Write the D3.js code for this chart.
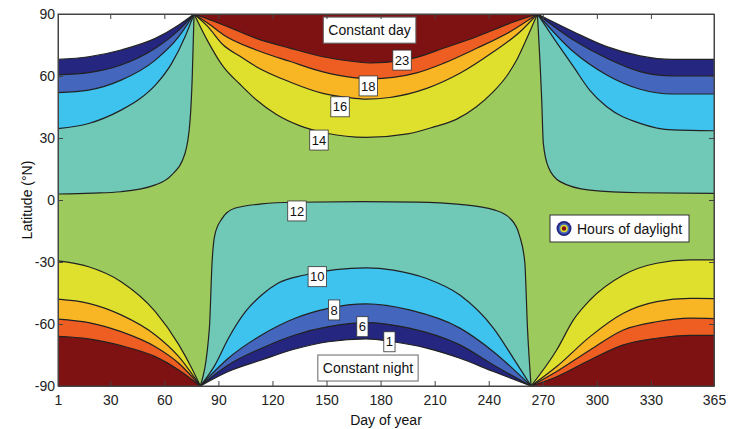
<!DOCTYPE html>
<html>
<head>
<meta charset="utf-8">
<script src="https://cdn.jsdelivr.net/npm/d3@7"></script>
<style>
  body { margin: 0; background: #fff; }
  text { font-family: "Liberation Sans", Arial, sans-serif; }
</style>
</head>
<body>
<div class="chart"></div>
<script>
// Contour levels (hours of daylight) and axis ticks
var levels = [1, 6, 8, 10, 12, 14, 16, 18, 23];
var xTicks = [1, 30, 60, 90, 120, 150, 180, 210, 240, 270, 300, 330, 365];
var yTicks = [-90, -60, -30, 0, 30, 60, 90];

// Contour lines, [day, latitude]
// north, start of year (days 1 - 76.5)
var tl12 = [[1, 2.9], [20, 3.3], [36, 4], [55, 7.3], [64, 12], [71.5, 22.6], [74.3, 38.7], [75.5, 59.7], [76.5, 90]];
var tl10 = [[1, 34.5], [18, 37], [36, 43.5], [46, 48.7], [55, 55.6], [64, 66], [71.5, 79], [76.5, 90]];
var tl8 = [[1, 52], [18, 53.2], [36, 58], [55, 67.7], [68, 79], [76.5, 90]];
var tl6 = [[1, 60.5], [18, 61.6], [36, 65.3], [55, 73.4], [68, 82.2], [76.5, 90]];
var tl1 = [[1, 68], [18, 69.3], [36, 72.6], [55, 78.2], [68, 84.7], [76.5, 90]];

// north, end of year (days 267 - 365)
var tr12 = [[267, 90], [269.4, 48.4], [270.3, 27.4], [273, 16.1], [279.6, 8.9], [296, 4.8], [324, 3.5], [365, 3.2]];
var tr10 = [[267, 90], [278, 75.8], [287, 64.5], [296, 53.2], [305.5, 45.1], [324, 37.1], [342, 33.9], [365, 33.5]];
var tr8 = [[267, 90], [287, 71.7], [305.5, 60.5], [324, 53.6], [342, 51.3], [365, 51.3]];
var tr6 = [[267, 90], [287, 77.4], [305.5, 68.6], [324, 62.1], [342, 60], [365, 60]];
var tr1 = [[267, 90], [287, 81.4], [305.5, 74.2], [324, 69.7], [342, 68], [365, 68]];

// north, summer
var tm14 = [[76.5, 90], [84, 77], [92.7, 64.5], [102, 56], [111, 48.5], [122, 41.5], [135, 36], [150, 32.3], [172, 30.3], [195, 32], [210, 35.5], [222, 39], [233, 45], [242.6, 52.4], [250, 60], [255.5, 67.7], [260, 76], [264.8, 85.5], [267, 90]];
var tm16 = [[76.5, 90], [84, 84], [92.7, 75], [102, 69.5], [111, 64.5], [130, 57], [148, 51.6], [161, 49.7], [172, 48.8], [185, 49.6], [205.6, 54], [224, 61.3], [242.6, 71.7], [257.4, 81.4], [267, 90]];
var tm18 = [[76.5, 90], [85, 85], [92.7, 80], [111, 72.6], [130, 67], [148, 62], [165, 59.2], [175, 58.6], [187, 59.3], [200, 61.5], [214.8, 66.1], [233.3, 73.4], [251.8, 81.4], [267, 90]];
var tm23 = [[76.5, 90], [92.7, 84.7], [111, 78.2], [130, 73.4], [148, 69.3], [166, 66.9], [175, 66.3], [190, 67.3], [200, 69], [214.8, 73.4], [233.3, 79], [251.8, 85.5], [267, 90]];

// south, start of year (days 1 - 80)
var bl14 = [[1, -29.5], [18, -32.3], [36, -39.5], [55, -54], [68, -70], [75.2, -81.4], [80, -90]];
var bl16 = [[1, -48], [18, -50], [36, -55.6], [55, -65.3], [68, -75.8], [80, -90]];
var bl18 = [[1, -57.6], [18, -59.3], [36, -63.7], [55, -71], [68, -79], [80, -90]];
var bl23 = [[1, -66], [18, -67.2], [36, -70.5], [55, -75.8], [68, -82.2], [80, -90]];

// south, end of year (days 263.5 - 365)
var br14 = [[263.5, -90], [277.7, -72.6], [287, -58], [296.2, -48.4], [314.7, -36.3], [333.2, -30.6], [351.7, -29], [365, -29]];
var br16 = [[263.5, -90], [277.7, -80.6], [296.2, -66.1], [314.7, -54.8], [333.2, -49.2], [351.7, -47.6], [365, -47.7]];
var br18 = [[263.5, -90], [277.7, -83], [296.2, -72.6], [314.7, -62.9], [333.2, -58.9], [351.7, -57.2], [365, -57.4]];
var br23 = [[263.5, -90], [277.7, -85.5], [296.2, -77.4], [314.7, -70.1], [333.2, -66.9], [351.7, -65.5], [365, -65.5]];

// south, winter
var bm12 = [[80, -90], [85, -62], [86.5, -30], [88, -17], [92, -9], [99, -4], [114, -1.9], [132, -1.1], [170, -0.8], [200, -1], [224, -2.1], [243, -4.8], [252, -9], [257, -17], [260, -30], [261.5, -62], [263.5, -90]];
var bm10 = [[80, -90], [88, -80], [95.5, -67], [105, -54], [114, -46], [123, -40.3], [138, -36.3], [155, -33.7], [172, -32.8], [187, -33.9], [205.6, -38], [224, -46], [242.6, -62], [253.7, -76.6], [263.5, -90]];
var bm8 = [[80, -90], [95.5, -76.6], [114, -65.3], [132.5, -57.2], [151, -52.4], [172, -50.3], [196, -53.2], [224, -62], [242.6, -73.4], [263.5, -90]];
var bm6 = [[80, -90], [95.5, -79.8], [114, -71.7], [132.5, -65.3], [151, -61.3], [172, -59.3], [196, -62], [224, -70.1], [242.6, -79.8], [263.5, -90]];
var bm1 = [[80, -90], [95.5, -83], [114, -77.4], [132.5, -72.1], [151, -68.6], [172, -67.2], [187, -68.6], [205.6, -71.7], [224, -76.6], [242.6, -83], [263.5, -90]];

// Contour labels: level, day, latitude
var labelLevels = [23, 18, 16, 14, 12, 10, 8, 6, 1];
var labelDays = [191.9, 173.2, 157.5, 145.8, 133.6, 144.9, 154.2, 169.9, 184.9];
var labelLats = [67.7, 55.2, 45.1, 29, -5.3, -37.1, -53.2, -61.3, -68.6];

// Define SVG area dimensions
var svgWidth = 736;
var svgHeight = 429;
var margin = { top: 14, right: 22, bottom: 43, left: 58 };
var width = svgWidth - margin.left - margin.right;
var height = svgHeight - margin.top - margin.bottom;

var svg = d3.select(".chart")
  .append("svg")
  .attr("width", svgWidth)
  .attr("height", svgHeight);

var chartGroup = svg.append("g")
  .attr("transform", `translate(${margin.left}, ${margin.top})`);

// Scales
var x = d3.scaleLinear().domain([1, 365]).range([0, width]);
var y = d3.scaleLinear().domain([-90, 90]).range([height, 0]);

var bandColors = ["#ffffff", "#24267f", "#4467bd", "#3ec2ee", "#70c8b6",
  "#9dca5c", "#dfe02e", "#f8b624", "#ee5d22", "#7e1111"];
var color = d3.scaleThreshold().domain(levels).range(bandColors);

svg.append("clipPath").attr("id", "plotClip")
  .append("rect").attr("width", width).attr("height", height);

var plot = chartGroup.append("g").attr("clip-path", "url(#plotClip)");

// base band 12-14 h
plot.append("rect")
  .attr("width", width)
  .attr("height", height)
  .attr("fill", color(13));

// Regions: each stack of contours is filled from the curve to the pole edge
var regions = [
  { edge: 90, below: true, curves: [[12, tl12], [10, tl10], [8, tl8], [6, tl6], [1, tl1]] },
  { edge: 90, below: true, curves: [[12, tr12], [10, tr10], [8, tr8], [6, tr6], [1, tr1]] },
  { edge: 90, below: false, curves: [[14, tm14], [16, tm16], [18, tm18], [23, tm23]] },
  { edge: -90, below: false, curves: [[14, bl14], [16, bl16], [18, bl18], [23, bl23]] },
  { edge: -90, below: false, curves: [[14, br14], [16, br16], [18, br18], [23, br23]] },
  { edge: -90, below: true, curves: [[12, bm12], [10, bm10], [8, bm8], [6, bm6], [1, bm1]] }
];

regions.forEach(function(r) {
  var area = d3.area()
    .curve(d3.curveMonotoneX)
    .x(d => x(d[0]))
    .y0(y(r.edge))
    .y1(d => y(d[1]));
  r.curves.forEach(function(c) {
    plot.append("path")
      .datum(c[1])
      .attr("d", area)
      .attr("fill", r.below ? color(c[0] - 0.5) : color(c[0] + 0.5));
  });
});

// Contour lines
var line = d3.line()
  .curve(d3.curveMonotoneX)
  .x(d => x(d[0]))
  .y(d => y(d[1]));

regions.forEach(function(r) {
  r.curves.forEach(function(c) {
    plot.append("path")
      .datum(c[1])
      .attr("d", line)
      .attr("fill", "none")
      .attr("stroke", "#222")
      .attr("stroke-width", 1.2);
  });
});

// Contour labels
labelLevels.forEach(function(lv, i) {
  var g = chartGroup.append("g")
    .attr("transform", `translate(${x(labelDays[i])}, ${y(labelLats[i])})`);
  var t = g.append("text")
    .attr("text-anchor", "middle")
    .attr("dy", "0.36em")
    .attr("font-size", "13px")
    .attr("fill", "#111")
    .text(lv);
  var w = t.node().getComputedTextLength() + 4;
  g.insert("rect", "text")
    .attr("x", -w / 2)
    .attr("y", -10)
    .attr("width", w)
    .attr("height", 20)
    .attr("fill", "#fff")
    .attr("stroke", "#333")
    .attr("stroke-width", 0.8);
});

// Constant day / night notes
function note(day, lat, txt) {
  var g = chartGroup.append("g")
    .attr("transform", `translate(${x(day)}, ${y(lat)})`);
  var t = g.append("text")
    .attr("text-anchor", "middle")
    .attr("dy", "0.36em")
    .attr("font-size", "14px")
    .attr("fill", "#111")
    .text(txt);
  var w = t.node().getComputedTextLength() + 10;
  g.insert("rect", "text")
    .attr("x", -w / 2)
    .attr("y", -13)
    .attr("width", w)
    .attr("height", 26)
    .attr("fill", "#fff")
    .attr("stroke", "#666")
    .attr("stroke-width", 1);
}
note(173.9, 82.2, "Constant day");
note(173, -81.3, "Constant night");

// Axes, MATLAB style: ticks inside on every side, plain hyphen for minus
var bottomAxis = d3.axisBottom(x).tickValues(xTicks).tickSizeInner(-5).tickSizeOuter(0).tickPadding(9);
var leftAxis = d3.axisLeft(y).tickValues(yTicks).tickSizeInner(-5).tickSizeOuter(0).tickPadding(3)
  .tickFormat(d => String(d));
var topAxis = d3.axisTop(x).tickValues(xTicks).tickSizeInner(-5).tickSizeOuter(0).tickFormat("");
var rightAxis = d3.axisRight(y).tickValues(yTicks).tickSizeInner(-5).tickSizeOuter(0).tickFormat("");

chartGroup.append("g").attr("class", "axis")
  .attr("transform", `translate(0, ${height})`)
  .call(bottomAxis);
chartGroup.append("g").attr("class", "axis").call(leftAxis);
chartGroup.append("g").attr("class", "axis").call(topAxis);
chartGroup.append("g").attr("class", "axis")
  .attr("transform", `translate(${width}, 0)`)
  .call(rightAxis);

chartGroup.selectAll(".axis path").attr("stroke", "#444");
chartGroup.selectAll(".axis line").attr("stroke", "#444");
chartGroup.selectAll(".axis text")
  .attr("font-size", "14px")
  .attr("fill", "#222")
  .style("font-family", "'Liberation Sans', Arial, sans-serif");

chartGroup.append("rect")
  .attr("width", width)
  .attr("height", height)
  .attr("fill", "none")
  .attr("stroke", "#444");

// Legend
var legend = chartGroup.append("g")
  .attr("transform", `translate(${width - 164}, ${201})`);
legend.append("rect")
  .attr("width", 139)
  .attr("height", 27)
  .attr("fill", "#fff")
  .attr("stroke", "#333");
[[7.5, color(3)], [5.5, color(7)], [3.8, color(15)], [2.2, color(24)]].forEach(function(c) {
  legend.append("circle")
    .attr("cx", 14)
    .attr("cy", 13.5)
    .attr("r", c[0])
    .attr("fill", c[1]);
});
legend.append("text")
  .attr("x", 27)
  .attr("y", 18.5)
  .attr("font-size", "14px")
  .attr("fill", "#111")
  .text("Hours of daylight");

// Axis labels
chartGroup.append("text")
  .attr("transform", "rotate(-90)")
  .attr("x", 0 - height / 2)
  .attr("y", 0 - margin.left + 32)
  .attr("text-anchor", "middle")
  .attr("font-size", "14px")
  .attr("fill", "#111")
  .text("Latitude (°N)");

chartGroup.append("text")
  .attr("x", width / 2)
  .attr("y", height + 39)
  .attr("text-anchor", "middle")
  .attr("font-size", "14px")
  .attr("fill", "#111")
  .text("Day of year");
</script>
</body>
</html>
